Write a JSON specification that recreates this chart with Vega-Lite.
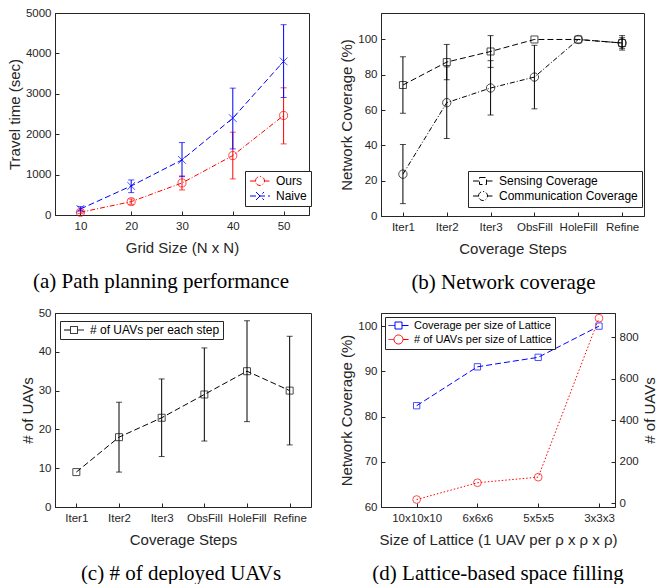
{
  "$schema": "https://vega.github.io/schema/vega-lite/v6.json",
  "padding": {"left": 6, "top": 6, "right": 0, "bottom": 0},
  "background": "white",
  "columns": 2,
  "bounds": "flush",
  "spacing": {"row": 97, "column": 70},
  "resolve": {
    "scale": {"color": "independent", "shape": "independent", "strokeDash": "independent", "size": "independent"},
    "legend": {"color": "independent", "shape": "independent", "strokeDash": "independent", "size": "independent"}
  },
  "datasets": {
    "a": [
      {"grid": 10, "series": "Ours", "time": 66, "lo": 33, "hi": 124},
      {"grid": 20, "series": "Ours", "time": 330, "lo": 264, "hi": 397},
      {"grid": 30, "series": "Ours", "time": 793, "lo": 620, "hi": 967},
      {"grid": 40, "series": "Ours", "time": 1471, "lo": 893, "hi": 2050},
      {"grid": 50, "series": "Ours", "time": 2463, "lo": 1760, "hi": 3149},
      {"grid": 10, "series": "Naive", "time": 149, "lo": 99, "hi": 207},
      {"grid": 20, "series": "Naive", "time": 719, "lo": 554, "hi": 868},
      {"grid": 30, "series": "Naive", "time": 1364, "lo": 950, "hi": 1793},
      {"grid": 40, "series": "Naive", "time": 2397, "lo": 1636, "hi": 3140},
      {"grid": 50, "series": "Naive", "time": 3802, "lo": 2909, "hi": 4711}
    ],
    "b": [
      {"step": "Iter1", "series": "Sensing Coverage", "cov": 74.2, "lo": 58.2, "hi": 90.2},
      {"step": "Iter2", "series": "Sensing Coverage", "cov": 87.2, "lo": 77.2, "hi": 97.2},
      {"step": "Iter3", "series": "Sensing Coverage", "cov": 93.2, "lo": 84.2, "hi": 102.2},
      {"step": "ObsFill", "series": "Sensing Coverage", "cov": 100, "lo": null, "hi": null},
      {"step": "HoleFill", "series": "Sensing Coverage", "cov": 100, "lo": null, "hi": null},
      {"step": "Refine", "series": "Sensing Coverage", "cov": 98, "lo": 95, "hi": 101},
      {"step": "Iter1", "series": "Communication Coverage", "cov": 23.7, "lo": 7.0, "hi": 40.5},
      {"step": "Iter2", "series": "Communication Coverage", "cov": 64.2, "lo": 43.9, "hi": 84.5},
      {"step": "Iter3", "series": "Communication Coverage", "cov": 72.5, "lo": 57.2, "hi": 88.0},
      {"step": "ObsFill", "series": "Communication Coverage", "cov": 78.7, "lo": 60.7, "hi": 96.7},
      {"step": "HoleFill", "series": "Communication Coverage", "cov": 100, "lo": null, "hi": null},
      {"step": "Refine", "series": "Communication Coverage", "cov": 98, "lo": 94, "hi": 102.2}
    ],
    "c": [
      {"step": "Iter1", "uavs": 9, "lo": null, "hi": null},
      {"step": "Iter2", "uavs": 18, "lo": 9, "hi": 27},
      {"step": "Iter3", "uavs": 23, "lo": 13, "hi": 33},
      {"step": "ObsFill", "uavs": 29, "lo": 17, "hi": 41},
      {"step": "HoleFill", "uavs": 35, "lo": 22, "hi": 48},
      {"step": "Refine", "uavs": 30, "lo": 16, "hi": 44}
    ],
    "d": [
      {"lattice": "10x10x10", "coverage": 82.4, "uavs": 17},
      {"lattice": "6x6x6", "coverage": 91.0, "uavs": 98},
      {"lattice": "5x5x5", "coverage": 93.1, "uavs": 125},
      {"lattice": "3x3x3", "coverage": 100, "uavs": 892}
    ]
  },
  "concat": [
    {
      "width": 254,
      "height": 202,
      "title": {"text": "(a) Path planning performance", "dx": -21},
      "data": {"name": "a"},
      "encoding": {
        "x": {"field": "grid", "type": "quantitative", "scale": {"domain": [5, 55], "nice": false}, "axis": {"values": [10, 20, 30, 40, 50], "title": "Grid Size (N x N)"}},
        "y": {"field": "time", "type": "quantitative", "scale": {"domain": [0, 5000], "nice": false}, "axis": {"values": [0, 1000, 2000, 3000, 4000, 5000], "format": "d", "title": "Travel time (sec)"}}
      },
      "layer": [
        {
          "transform": [{"filter": "datum.series === 'Ours'"}],
          "mark": {"type": "errorbar", "ticks": {"size": 6}, "thickness": 1, "color": "#ff0000"},
          "encoding": {
            "y": {"field": "lo", "type": "quantitative", "scale": {"domain": [0, 5000], "nice": false}, "axis": {"values": [0, 1000, 2000, 3000, 4000, 5000], "format": "d", "title": "Travel time (sec)"}},
            "y2": {"field": "hi"}
          }
        },
        {
          "transform": [{"filter": "datum.series === 'Naive'"}],
          "mark": {"type": "errorbar", "ticks": {"size": 6}, "thickness": 1, "color": "#0000ff"},
          "encoding": {
            "y": {"field": "lo", "type": "quantitative", "scale": {"domain": [0, 5000], "nice": false}, "axis": {"values": [0, 1000, 2000, 3000, 4000, 5000], "format": "d", "title": "Travel time (sec)"}},
            "y2": {"field": "hi"}
          }
        },
        {
          "mark": {"type": "line", "strokeWidth": 1},
          "encoding": {
            "color": {
              "field": "series", "type": "nominal",
              "scale": {"domain": ["Ours", "Naive"], "range": ["#ff0000", "#0000ff"]},
              "legend": {
                "orient": "none", "legendX": 190, "legendY": 158, "labelOffset": 10,
                "encode": {"symbols": {"update": {
                  "shape": {"signal": "datum.value === 'Ours' ? 'M-2,0L-0.9,0M0.9,0L2,0M-0.9,0A0.9,0.9,0,1,1,0.9,0A0.9,0.9,0,1,1,-0.9,0' : 'M-2,0L2,0M-0.8,-0.8L0.8,0.8M-0.8,0.8L0.8,-0.8'"},
                  "strokeDash": {"value": [1, 0]},
                  "fill": {"value": "transparent"}
                }}}
              }
            },
            "strokeDash": {"field": "series", "type": "nominal", "scale": {"domain": ["Ours", "Naive"], "range": [[5, 2, 1, 2], [6, 3]]}, "legend": null}
          }
        },
        {
          "transform": [{"filter": "datum.series === 'Ours'"}],
          "mark": {"type": "point", "filled": false, "strokeWidth": 1, "size": 65, "shape": "circle", "color": "#ff0000"}
        },
        {
          "transform": [{"filter": "datum.series === 'Naive'"}],
          "mark": {"type": "point", "filled": false, "strokeWidth": 1, "size": 60, "shape": "M-1,-1L1,1M-1,1L1,-1", "color": "#0000ff"}
        }
      ]
    },
    {
      "width": 263,
      "height": 203,
      "title": {"text": "(b) Network coverage", "dx": -9},
      "data": {"name": "b"},
      "encoding": {
        "x": {"field": "step", "type": "ordinal", "sort": null, "scale": {"type": "point", "domain": ["Iter1", "Iter2", "Iter3", "ObsFill", "HoleFill", "Refine"], "padding": 0.5}, "axis": {"labelAngle": 0, "title": "Coverage Steps"}},
        "y": {"field": "cov", "type": "quantitative", "scale": {"domain": [0, 115], "nice": false}, "axis": {"values": [0, 20, 40, 60, 80, 100], "title": "Network Coverage (%)"}}
      },
      "layer": [
        {
          "transform": [{"filter": "isValid(datum.lo)"}],
          "mark": {"type": "errorbar", "ticks": {"size": 6}, "thickness": 1, "color": "black"},
          "encoding": {
            "y": {"field": "lo", "type": "quantitative", "scale": {"domain": [0, 115], "nice": false}, "axis": {"values": [0, 20, 40, 60, 80, 100], "title": "Network Coverage (%)"}},
            "y2": {"field": "hi"}
          }
        },
        {
          "mark": {"type": "line", "strokeWidth": 1, "color": "black"},
          "encoding": {
            "strokeDash": {
              "field": "series", "type": "nominal",
              "scale": {"domain": ["Sensing Coverage", "Communication Coverage"], "range": [[6, 3], [5, 2, 1, 2]]},
              "legend": {
                "orient": "none", "legendX": 87, "legendY": 158, "symbolStrokeColor": "black", "labelOffset": 10,
                "encode": {"symbols": {"update": {
                  "shape": {"signal": "datum.value === 'Sensing Coverage' ? 'M-2,0L-0.7,0M0.7,0L2,0M-0.7,-0.7L0.7,-0.7L0.7,0.7L-0.7,0.7Z' : 'M-2,0L-0.9,0M0.9,0L2,0M-0.9,0A0.9,0.9,0,1,1,0.9,0A0.9,0.9,0,1,1,-0.9,0'"},
                  "strokeDash": {"value": [1, 0]},
                  "fill": {"value": "transparent"},
                  "stroke": {"value": "black"}
                }}}
              }
            }
          }
        },
        {
          "transform": [{"filter": "datum.series === 'Sensing Coverage'"}],
          "mark": {"type": "point", "filled": false, "strokeWidth": 1, "color": "black", "shape": "square", "size": 49}
        },
        {
          "transform": [{"filter": "datum.series === 'Communication Coverage'"}],
          "mark": {"type": "point", "filled": false, "strokeWidth": 1, "color": "black", "shape": "circle", "size": 70}
        }
      ]
    },
    {
      "width": 256,
      "height": 194,
      "title": {"text": "(c) # of deployed UAVs", "dx": -2},
      "data": {"name": "c"},
      "encoding": {
        "x": {"field": "step", "type": "ordinal", "sort": null, "scale": {"type": "point", "domain": ["Iter1", "Iter2", "Iter3", "ObsFill", "HoleFill", "Refine"], "padding": 0.5}, "axis": {"labelAngle": 0, "title": "Coverage Steps"}},
        "y": {"field": "uavs", "type": "quantitative", "scale": {"domain": [0, 50], "nice": false}, "axis": {"values": [0, 10, 20, 30, 40, 50], "title": "# of UAVs"}}
      },
      "layer": [
        {
          "transform": [{"filter": "isValid(datum.lo)"}],
          "mark": {"type": "errorbar", "ticks": {"size": 6}, "thickness": 1, "color": "black"},
          "encoding": {
            "y": {"field": "lo", "type": "quantitative", "scale": {"domain": [0, 50], "nice": false}, "axis": {"values": [0, 10, 20, 30, 40, 50], "title": "# of UAVs"}},
            "y2": {"field": "hi"}
          }
        },
        {
          "mark": {"type": "line", "strokeWidth": 1, "strokeDash": [6, 3]},
          "encoding": {
            "color": {
              "datum": "# of UAVs per each step",
              "scale": {"range": ["black"]},
              "legend": {
                "orient": "none", "legendX": 5, "legendY": 8, "padding": 3, "labelOffset": 10,
                "encode": {"symbols": {"update": {
                  "shape": {"value": "M-2,0L-0.7,0M0.7,0L2,0M-0.7,-0.7L0.7,-0.7L0.7,0.7L-0.7,0.7Z"},
                  "strokeDash": {"value": [1, 0]},
                  "fill": {"value": "transparent"},
                  "stroke": {"value": "black"}
                }}}
              }
            }
          }
        },
        {
          "mark": {"type": "point", "filled": false, "strokeWidth": 1, "size": 49, "shape": "square", "color": "black"}
        }
      ]
    },
    {
      "width": 234,
      "height": 194,
      "title": {"text": "(d) Lattice-based space filling", "dx": 0},
      "data": {"name": "d"},
      "encoding": {
        "x": {"field": "lattice", "type": "ordinal", "sort": null, "scale": {"type": "point", "domain": ["10x10x10", "6x6x6", "5x5x5", "3x3x3"], "padding": 0.425, "align": 0.69}, "axis": {"labelAngle": 0, "title": "Size of Lattice (1 UAV per ρ x ρ x ρ)"}}
      },
      "layer": [
        {
          "encoding": {
            "y": {"field": "coverage", "type": "quantitative", "scale": {"domain": [60, 102.9], "nice": false}, "axis": {"values": [60, 70, 80, 90, 100], "title": "Network Coverage (%)"}},
            "color": {
              "datum": "Coverage per size of Lattice",
              "scale": {"domain": ["Coverage per size of Lattice", "# of UAVs per size of Lattice"], "range": ["#0000ff", "#ff0000"]},
              "legend": {
                "orient": "none", "legendX": 4, "legendY": 4, "padding": 3, "labelFontSize": 11, "labelOffset": 10,
                "encode": {"symbols": {"update": {
                  "shape": {"signal": "datum.value === 'Coverage per size of Lattice' ? 'M-2,0L-0.7,0M0.7,0L2,0M-0.7,-0.7L0.7,-0.7L0.7,0.7L-0.7,0.7Z' : 'M-2,0L-0.9,0M0.9,0L2,0M-0.9,0A0.9,0.9,0,1,1,0.9,0A0.9,0.9,0,1,1,-0.9,0'"},
                  "strokeDash": {"value": [1, 0]},
                  "fill": {"value": "transparent"}
                }}}
              }
            }
          },
          "layer": [
            {"mark": {"type": "line", "strokeWidth": 1, "strokeDash": [6, 3]}},
            {"mark": {"type": "point", "filled": false, "strokeWidth": 1, "size": 40, "shape": "square"}}
          ]
        },
        {
          "encoding": {
            "y": {"field": "uavs", "type": "quantitative", "scale": {"domain": [-19, 917], "nice": false}, "axis": {"orient": "right", "values": [0, 200, 400, 600, 800], "title": "# of UAVs", "titleAngle": 270, "titleBaseline": "top", "titlePadding": 4}},
            "color": {"datum": "# of UAVs per size of Lattice"}
          },
          "layer": [
            {"mark": {"type": "line", "strokeWidth": 1, "strokeDash": [1.5, 2]}},
            {"mark": {"type": "point", "filled": false, "strokeWidth": 1, "size": 60, "shape": "circle"}}
          ]
        }
      ],
      "resolve": {"scale": {"y": "independent"}}
    }
  ],
  "config": {
    "font": "Liberation Sans",
    "view": {"stroke": "#262626", "strokeWidth": 1},
    "axis": {
      "grid": false,
      "labelFont": "Liberation Sans",
      "titleFont": "Liberation Sans",
      "labelFontSize": 11.5,
      "titleFontSize": 15,
      "titleFontWeight": "normal",
      "labelColor": "#262626",
      "titleColor": "#262626",
      "domainColor": "#262626",
      "tickColor": "#262626",
      "tickSize": -4,
      "labelFlush": false,
      "labelOverlap": false
    },
    "axisX": {"titlePadding": 9, "labelPadding": 9},
    "axisY": {"titlePadding": 3, "labelPadding": 8},
    "legend": {
      "labelFont": "Liberation Sans",
      "title": null,
      "strokeColor": "#262626",
      "fillColor": "white",
      "padding": 4,
      "labelFontSize": 12,
      "labelColor": "black",
      "symbolSize": 100,
      "symbolOffset": 5,
      "labelOffset": 12,
      "rowPadding": 2,
      "symbolStrokeWidth": 1
    },
    "title": {"orient": "bottom", "font": "Liberation Serif", "fontSize": 21, "fontWeight": "normal", "color": "black", "offset": 15, "anchor": "middle"}
  }
}
